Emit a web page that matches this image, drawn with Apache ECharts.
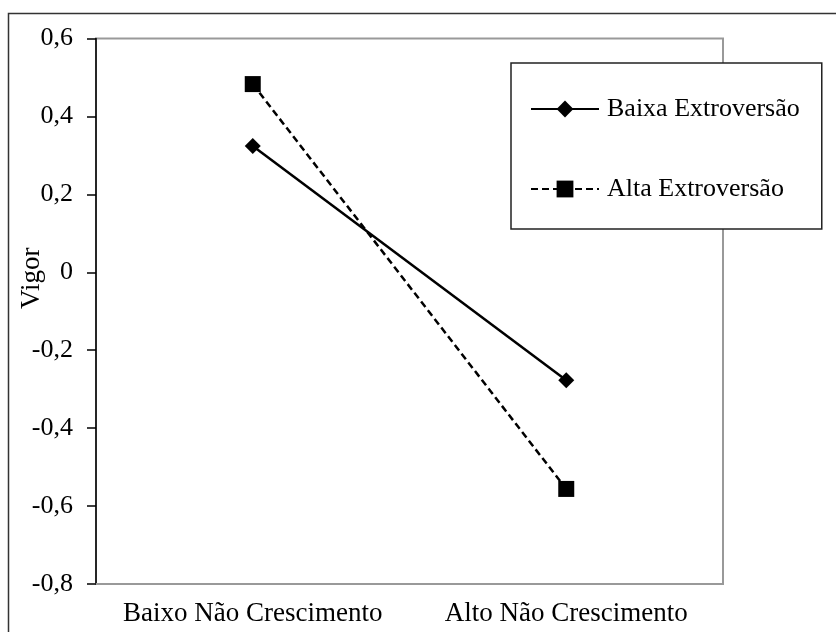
<!DOCTYPE html>
<html>
<head>
<meta charset="utf-8">
<script src="https://cdn.jsdelivr.net/npm/echarts@6/dist/echarts.min.js"></script>
<style>
html,body{margin:0;padding:0;background:#fff;}
#c{width:836px;height:632px;}
</style>
</head>
<body>
<div id="c"></div>
<script>
var categories = ['Baixo Não Crescimento', 'Alto Não Crescimento'];
var baixaExtroversao = [0.324, -0.277];
var altaExtroversao = [0.483, -0.556];
var yTicks = { min: -0.8, max: 0.6, interval: 0.2 };
var seriesNames = ['Baixa Extroversão', 'Alta Extroversão'];
var yAxisName = 'Vigor';

var FONT = '"Liberation Serif", "Times New Roman", serif';
var chart = echarts.init(document.getElementById('c'));
chart.setOption({
  animation: false,
  backgroundColor: '#fff',
  graphic: [{
    type: 'rect',
    shape: { x: 8.5, y: 13.5, width: 900, height: 700 },
    style: { fill: 'none', stroke: '#333', lineWidth: 1.5 },
    z: -10
  }],
  grid: {
    left: 96, right: 113, top: 38.5, bottom: 48,
    containLabel: false,
    outerBoundsMode: 'none',
    show: true, borderColor: '#999', borderWidth: 2, backgroundColor: 'transparent'
  },
  legend: {
    orient: 'vertical',
    left: 511, top: 63,
    padding: [32, 22, 26, 19],
    itemGap: 52,
    itemWidth: 68, itemHeight: 21,
    borderColor: '#222', borderWidth: 1.5,
    backgroundColor: '#fff',
    textStyle: { fontFamily: FONT, fontSize: 26, color: '#000', lineHeight: 28, padding: [0, 0, 0, 3] },
    data: seriesNames
  },
  xAxis: {
    type: 'category',
    data: categories,
    boundaryGap: true,
    axisLine: { onZero: false, lineStyle: { color: '#999', width: 2 } },
    axisTick: { show: false },
    axisLabel: { interval: 0, fontFamily: FONT, fontSize: 27, color: '#000', margin: 16 }
  },
  yAxis: {
    type: 'value',
    min: yTicks.min, max: yTicks.max, interval: yTicks.interval,
    name: yAxisName,
    nameLocation: 'middle',
    nameGap: 51,
    nameRotate: 90,
    nameMoveOverlap: false,
    nameTextStyle: { fontFamily: FONT, fontSize: 27, color: '#000', padding: [0, 0, 0, 66] },
    axisLine: { show: true, onZero: false, lineStyle: { color: '#000', width: 1.5 } },
    axisTick: { show: true, length: 9, lineStyle: { color: '#000', width: 1.5 } },
    splitLine: { show: false },
    axisLabel: {
      fontFamily: FONT, fontSize: 26, color: '#000', margin: 23, padding: [5, 0, 0, 0],
      formatter: function (v) { return (Math.round(v * 10) / 10).toString().replace('.', ','); }
    }
  },
  series: [{
    name: seriesNames[0],
    type: 'line',
    data: baixaExtroversao,
    symbol: 'diamond', symbolSize: 16,
    lineStyle: { color: '#000', width: 2.5, type: 'solid' },
    itemStyle: { color: '#000' }
  }, {
    name: seriesNames[1],
    type: 'line',
    data: altaExtroversao,
    symbol: 'rect', symbolSize: 16,
    lineStyle: { color: '#000', width: 2.5, type: [7, 4] },
    itemStyle: { color: '#000' }
  }]
});
</script>
</body>
</html>
